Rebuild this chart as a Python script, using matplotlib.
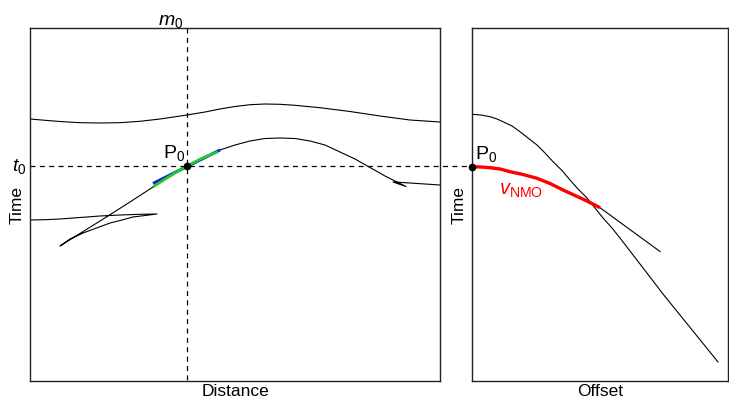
import matplotlib
matplotlib.use("Agg")
import matplotlib.pyplot as plt
import matplotlib as mpl

mpl.rcParams.update({
    'font.family': 'Liberation Sans', 'font.size': 12.5,
    'mathtext.fontset': 'custom', 'mathtext.rm': 'Liberation Sans',
    'mathtext.it': 'Liberation Sans:italic',
})

# Left panel: distance / time (time grows downward), units
upper_dist = [0, 15, 30, 50, 70, 90, 110, 130, 157, 175, 190, 205, 220, 235, 250,
              265, 290, 320, 350, 380, 410]
upper_time = [91, 92.3, 93.5, 94.7, 95, 94.7, 93.3, 91, 87, 84, 81, 78.5, 76.7, 76,
              76.3, 77.3, 79.7, 83.5, 88, 92, 94]

lower_dist = [0, 15, 30, 50, 70, 90, 110, 127,
              115, 103, 92, 80, 68, 53, 40, 30,
              70, 100, 123, 140, 157, 175, 190, 205, 220, 235, 250, 265, 280, 295,
              310, 325, 340, 355, 365, 376,
              363, 380, 395, 410]
lower_time = [192, 191.7, 191, 189.5, 188, 187, 186.3, 186,
              187.5, 189, 192, 195, 199.5, 205, 211, 218,
              193, 174, 159, 148.5, 138, 129, 122, 117, 113, 110.5, 110, 110.5, 113, 117,
              124, 131, 139.5, 148, 153, 158.5,
              154, 155, 156, 157]

green_dist = [123, 133, 145, 157, 170, 180, 188]
green_time = [159, 152.3, 145, 138, 131.3, 126.8, 123.8]
blue_dist = [123, 190]
blue_time = [155.5, 122]

p0_dist, p0_time = 157, 138

# Right panel: offset / time
hyp_off = [0, 9, 18, 25, 31, 40, 48, 56, 65, 73, 81, 90, 98, 106, 115, 123, 131,
           140, 148, 158, 168, 191, 246]
hyp_time = [86.3, 87, 88.7, 91, 93.7, 98, 103.7, 110, 117, 125, 133.7, 142.5, 152,
            161, 170, 180, 190, 200, 210, 223, 236, 266, 334]

nmo_off = [0, 9, 18, 28, 38, 51, 65, 78, 91, 103, 115, 128]
nmo_time = [138.7, 139, 139.7, 141, 143.7, 146.5, 150.3, 155.5, 162, 167.5, 173, 179.7]
tail_off = [128, 188]
tail_time = [179.7, 223.5]

fig = plt.figure(figsize=(7.29, 4.04), dpi=100)
ax1 = fig.add_axes([30 / 729, 23 / 404, 410 / 729, 353 / 404])
ax2 = fig.add_axes([472 / 729, 23 / 404, 256 / 729, 353 / 404])

for ax in (ax1, ax2):
    ax.set_xticks([])
    ax.set_yticks([])
    for s in ax.spines.values():
        s.set_color('#222222')
        s.set_linewidth(1.0)
    ax.set_ylabel("Time", labelpad=4)

ax1.set_xlim(0, 410)
ax1.set_ylim(353, 0)
ax2.set_xlim(0, 256)
ax2.set_ylim(353, 0)

ax1.plot(upper_dist, upper_time, color='black', lw=0.8)
ax1.plot(lower_dist, lower_time, color='black', lw=0.8)
ax1.plot(blue_dist, blue_time, color='#1020e0', lw=2.2, solid_capstyle='butt')
ax1.plot(green_dist, green_time, color='#22cc22', lw=2.0, solid_capstyle='butt')

# dashed guides through P0
ax1.plot([0, 442], [p0_time, p0_time], color='black', lw=0.9, ls=(0, (4, 3.5)), clip_on=False)
ax1.plot([p0_dist, p0_dist], [0, 353], color='black', lw=0.9, ls=(0, (4, 3.5)))
ax1.plot([p0_dist], [p0_time], 'o', color='black', ms=4.5, zorder=5)

ax1.text(p0_dist - 2, p0_time - 3, r"$\mathrm{P}_0$", ha='right', va='bottom', fontsize=14)
ax1.text(p0_dist - 16, -7, r"$m_{\mathit{0}}$", ha='center', va='center', clip_on=False, fontsize=14)
ax1.text(-11, p0_time, r"$t_{\mathit{0}}$", ha='center', va='center', clip_on=False, fontsize=14)
ax1.set_xlabel("Distance", labelpad=2)

ax2.plot(hyp_off, hyp_time, color='black', lw=0.8)
ax2.plot(nmo_off + tail_off[1:], nmo_time + tail_time[1:], color='black', lw=0.8)
ax2.plot(nmo_off, nmo_time, color='#ff0000', lw=2.4, solid_capstyle='butt')
ax2.plot([0], [nmo_time[0]], 'o', color='black', ms=4.5, zorder=5, clip_on=False)
ax2.text(3, 136, r"$\mathrm{P}_0$", ha='left', va='bottom', fontsize=14)
ax2.text(27, 163, r"$v_{\mathrm{NMO}}$", color='#ff0000', ha='left', va='center', fontsize=14.5)
ax2.set_xlabel("Offset", labelpad=2)

fig.savefig("out.png", dpi=100)
